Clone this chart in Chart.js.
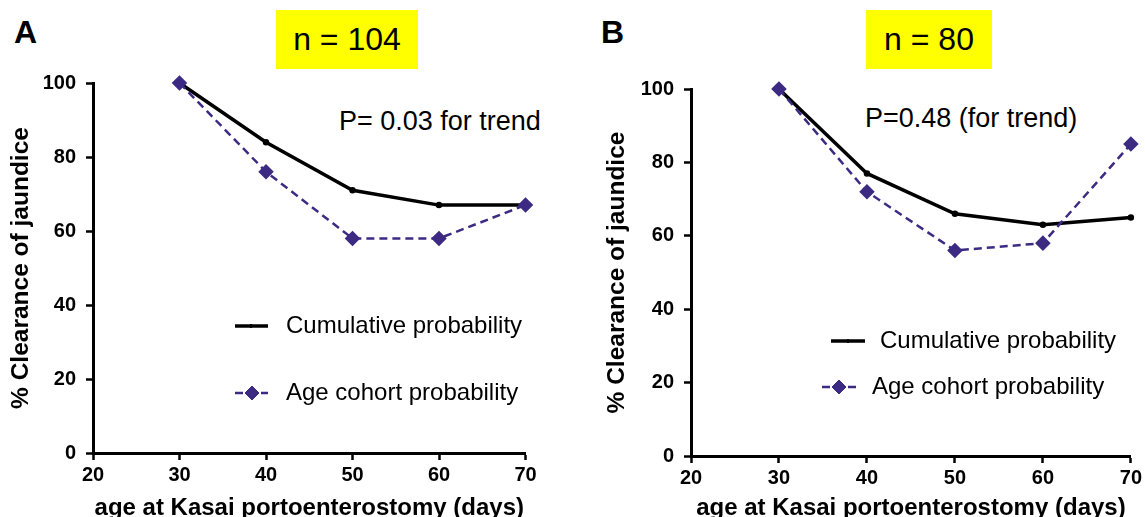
<!DOCTYPE html>
<html>
<head>
<meta charset="utf-8">
<script src="https://cdn.jsdelivr.net/npm/chart.js@4.4.1/dist/chart.umd.min.js"></script>
<style>
  html, body { margin: 0; padding: 0; background: #fff; overflow: hidden; }
  body { width: 1145px; height: 517px; position: relative; font-family: "Liberation Sans", Arial, sans-serif; }
  .cv { position: absolute; top: 0; }
  .lbl { position: absolute; font-weight: bold; font-size: 32px; line-height: 1; color: #000; }
  .nbox { position: absolute; background: #ffff00; font-size: 32px; color: #000;
          display: flex; align-items: center; justify-content: center; }
  .ptxt { position: absolute; font-size: 27px; line-height: 1; color: #000; white-space: nowrap; }
</style>
</head>
<body>
<div class="lbl" style="left:14px; top:16px;">A</div>
<div class="lbl" style="left:601px; top:16px;">B</div>
<div class="nbox" style="left:276px; top:10px; width:142px; height:59px;">n = 104</div>
<div class="nbox" style="left:866px; top:10px; width:126px; height:59px;">n = 80</div>
<div class="ptxt" style="left:339px; top:108px;">P= 0.03 for trend</div>
<div class="ptxt" style="left:865px; top:105px;">P=0.48 (for trend)</div>
<div class="cv" style="left:0px; width:575px; height:517px;"><canvas id="chartA"></canvas></div>
<div class="cv" style="left:575px; width:570px; height:517px;"><canvas id="chartB"></canvas></div>
<script>
// ---- data ----
const ageDays = [30, 40, 50, 60, 70];
const cumulativeA = [100, 84, 71, 67, 67];
const cohortA = [100, 76, 58, 58, 67];
const cumulativeB = [100, 77, 66, 63, 65];
const cohortB = [100, 72, 56, 58, 85];
const xTickValues = [20, 30, 40, 50, 60, 70];
const yTickValues = [0, 20, 40, 60, 80, 100];
const seriesNames = ["Cumulative probability", "Age cohort probability"];
const xTitle = "age at Kasai portoenterostomy (days)";
const yTitle = "% Clearance of jaundice";

const FONT = '"Liberation Sans", Arial, sans-serif';
const PURPLE = '#3d2a82';

function pts(ys) { return ageDays.map((x, i) => ({ x: x, y: ys[i] })); }

const legendPlugin = {
  id: 'inLegend',
  afterDraw(chart, args, opts) {
    const ctx = chart.ctx;
    ctx.save();
    opts.rows.forEach(r => {
      const ds = chart.data.datasets[r.ds];
      ctx.strokeStyle = ds.borderColor;
      ctx.lineWidth = ds.borderWidth;
      ctx.setLineDash(ds.borderDash || []);
      ctx.beginPath();
      ctx.moveTo(r.x1, r.y);
      ctx.lineTo(r.x2, r.y);
      ctx.stroke();
      ctx.setLineDash([]);
      ctx.fillStyle = ds.pointBackgroundColor;
      ctx.strokeStyle = ds.pointBorderColor;
      ctx.lineWidth = 1;
      Chart.helpers.drawPoint(ctx, { pointStyle: ds.pointStyle || 'circle', radius: r.mr, rotation: 0, borderWidth: 1 }, r.mx, r.y);
      ctx.fillStyle = '#000';
      ctx.font = '24px ' + FONT;
      ctx.textAlign = 'left';
      ctx.textBaseline = 'middle';
      ctx.fillText(seriesNames[r.ds], r.tx, r.y);
    });
    ctx.restore();
  }
};

function makeChart(id, cum, coh, cfg) {
  const tickFont = { family: FONT, size: 20, weight: 'bold' };
  return new Chart(document.getElementById(id), {
    type: 'line',
    data: {
      datasets: [
        {
          label: seriesNames[0], data: pts(cum),
          borderColor: '#000', backgroundColor: '#000',
          pointBackgroundColor: '#000', pointBorderColor: '#000',
          borderWidth: 3.5, pointRadius: 1.5, pointStyle: 'circle',
          tension: 0, clip: false, order: 2
        },
        {
          label: seriesNames[1], data: pts(coh),
          borderColor: PURPLE, backgroundColor: PURPLE,
          pointBackgroundColor: PURPLE, pointBorderColor: PURPLE,
          borderWidth: 2.5, borderDash: [8, 5], pointRadius: 6, pointStyle: 'rectRot',
          tension: 0, clip: false, order: 1
        }
      ]
    },
    options: {
      responsive: true, maintainAspectRatio: false, animation: false,
      layout: { autoPadding: false, padding: { left: 0, top: cfg.top, right: cfg.right, bottom: 0 } },
      plugins: {
        legend: { display: false }, tooltip: { enabled: false },
        inLegend: { rows: cfg.legend }
      },
      scales: {
        x: {
          type: 'linear', min: 20, max: 70,
          afterBuildTicks: s => { s.ticks = xTickValues.map(v => ({ value: v })); },
          afterFit: s => { s.height = cfg.xh; },
          ticks: { font: tickFont, color: '#000', padding: 3, maxRotation: 0 },
          grid: { display: true, drawOnChartArea: false, drawTicks: true, tickLength: 7, tickWidth: 2.5, tickColor: '#000' },
          border: { display: true, color: '#000', width: 3 },
          title: { display: true, text: xTitle, color: '#000', font: { family: FONT, size: 24, weight: 'bold', lineHeight: 0.75 }, padding: { top: 0, bottom: 0 } }
        },
        y: {
          type: 'linear', min: 0, max: 100,
          afterBuildTicks: s => { s.ticks = yTickValues.map(v => ({ value: v })); },
          afterFit: s => { s.width = cfg.yw; },
          ticks: { font: tickFont, color: '#000', padding: 10 },
          grid: { display: true, drawOnChartArea: false, drawTicks: true, tickLength: 7, tickWidth: 2.5, tickColor: '#000' },
          border: { display: true, color: '#000', width: 3 },
          title: { display: true, text: yTitle, color: '#000', font: { family: FONT, size: 24.5, weight: 'bold', lineHeight: 1 }, padding: { top: cfg.ytp, bottom: 0 } }
        }
      }
    },
    plugins: [legendPlugin]
  });
}

makeChart('chartA', cumulativeA, cohortA, {
  top: 83, right: 49.5, xh: 64, yw: 93, ytp: 9,
  legend: [
    { ds: 0, x1: 235, x2: 268, mx: 251, mr: 1.5, y: 326, tx: 286 },
    { ds: 1, x1: 235, x2: 268, mx: 252, mr: 7, y: 393, tx: 286 }
  ]
});
makeChart('chartB', cumulativeB, cohortB, {
  top: 89, right: 8, xh: 61, yw: 116, ytp: 30,
  legend: [
    { ds: 0, x1: 256, x2: 290, mx: 273, mr: 1.5, y: 341, tx: 305 },
    { ds: 1, x1: 247, x2: 284, mx: 264, mr: 7, y: 387, tx: 297 }
  ]
});
</script>
</body>
</html>
